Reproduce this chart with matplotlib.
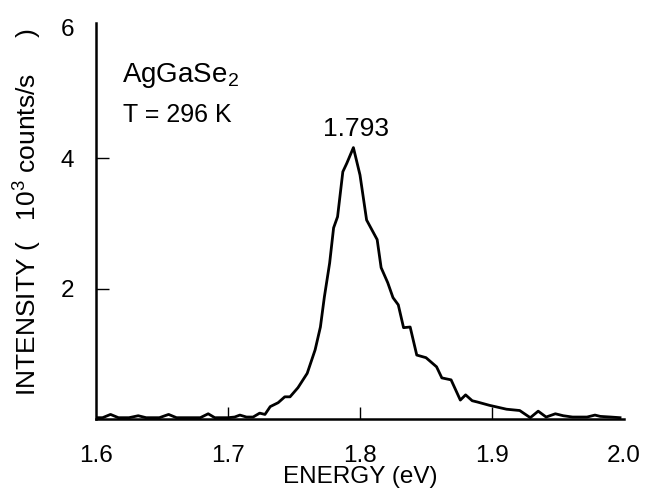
import matplotlib
matplotlib.use('Agg')
import matplotlib.pyplot as plt
import numpy as np

plt.rcParams['font.family'] = ['Liberation Sans', 'DejaVu Sans']
plt.rcParams['mathtext.fontset'] = 'custom'
plt.rcParams['mathtext.rm'] = 'Liberation Sans'
plt.rcParams['mathtext.it'] = 'Liberation Sans:italic'
plt.rcParams['mathtext.bf'] = 'Liberation Sans:bold'

# PL spectrum: energy (eV) and intensity (10^3 counts/s)
energy = [1.600, 1.605, 1.611, 1.617, 1.625, 1.632, 1.638, 1.648, 1.655, 1.661,
          1.672, 1.679, 1.685, 1.690, 1.700, 1.705, 1.709, 1.714, 1.719, 1.724,
          1.728, 1.732, 1.738, 1.743, 1.747, 1.753, 1.760, 1.766, 1.770, 1.773,
          1.777, 1.780, 1.783, 1.787, 1.790, 1.795, 1.800, 1.805, 1.813, 1.816,
          1.821, 1.825, 1.829, 1.833, 1.838, 1.843, 1.850, 1.858, 1.862, 1.869,
          1.876, 1.880, 1.885, 1.889, 1.898, 1.911, 1.921, 1.929, 1.935, 1.941,
          1.948, 1.954, 1.961, 1.972, 1.978, 1.982, 1.990, 1.997]
intensity = [0.02, 0.02, 0.07, 0.02, 0.02, 0.05, 0.02, 0.02, 0.07, 0.02,
             0.02, 0.02, 0.08, 0.02, 0.02, 0.03, 0.06, 0.03, 0.03, 0.09,
             0.07, 0.19, 0.25, 0.34, 0.34, 0.48, 0.70, 1.06, 1.41, 1.87,
             2.39, 2.93, 3.10, 3.79, 3.92, 4.16, 3.74, 3.05, 2.75, 2.32,
             2.09, 1.86, 1.75, 1.40, 1.41, 0.98, 0.94, 0.80, 0.63, 0.60,
             0.29, 0.37, 0.28, 0.26, 0.21, 0.15, 0.13, 0.02, 0.12, 0.03,
             0.08, 0.05, 0.03, 0.03, 0.06, 0.04, 0.03, 0.02]

x_ticks = [1.6, 1.7, 1.8, 1.9, 2.0]
x_labels = ['1.6', '1.7', '1.8', '1.9', '2.0']
y_ticks = [2, 4, 6]
y_labels = ['2', '4', '6']

peak_label = '1.793'
sample = 'AgGaSe$_2$'
temperature = 'T = 296 K'

fig = plt.figure(figsize=(6.45, 4.95), dpi=100)
ax = fig.add_axes([96 / 645, 76 / 495, 528 / 645, 396 / 495])

# spectrum
ax.plot(energy, intensity, color='black', linewidth=2.0)

ax.set_xlim(1.6, 2.0)
ax.set_ylim(0, 6.07)

# only left and bottom axes, ticks pointing inwards
for side in ['top', 'right']:
    ax.spines[side].set_visible(False)
for side in ['left', 'bottom']:
    ax.spines[side].set_linewidth(1.8)

ax.set_xticks(x_ticks)
ax.set_xticklabels(x_labels)
ax.set_yticks(y_ticks)
ax.set_yticklabels(y_labels)
ax.tick_params(axis='x', direction='in', length=9, width=1, pad=19, labelsize=17.5)
ax.tick_params(axis='y', direction='in', length=9, width=1, pad=15.5, labelsize=17.5)
ax.xaxis.get_major_ticks()[0].tick1line.set_visible(False)
ax.xaxis.get_major_ticks()[-1].tick1line.set_visible(False)
ax.yaxis.get_major_ticks()[-1].tick1line.set_visible(False)

# axis labels
ax.set_xlabel('ENERGY (eV)', fontsize=17.5, labelpad=-1)
fig.text(28 / 645, 1 - 212 / 495, 'INTENSITY (   10$^3$ counts/s     )',
         rotation=90, ha='center', va='center', fontsize=19)

# annotations
ax.text(0.049, 0.851, sample, transform=ax.transAxes, fontsize=20, va='baseline')
ax.text(0.051, 0.75, temperature, transform=ax.transAxes, fontsize=18, va='baseline')
i_peak = int(np.argmax(intensity))
ax.annotate(peak_label, xy=(energy[i_peak], intensity[i_peak]), xytext=(2, 8.5),
            textcoords='offset points', ha='center', va='baseline', fontsize=19)

fig.savefig('out.png', dpi=100)
